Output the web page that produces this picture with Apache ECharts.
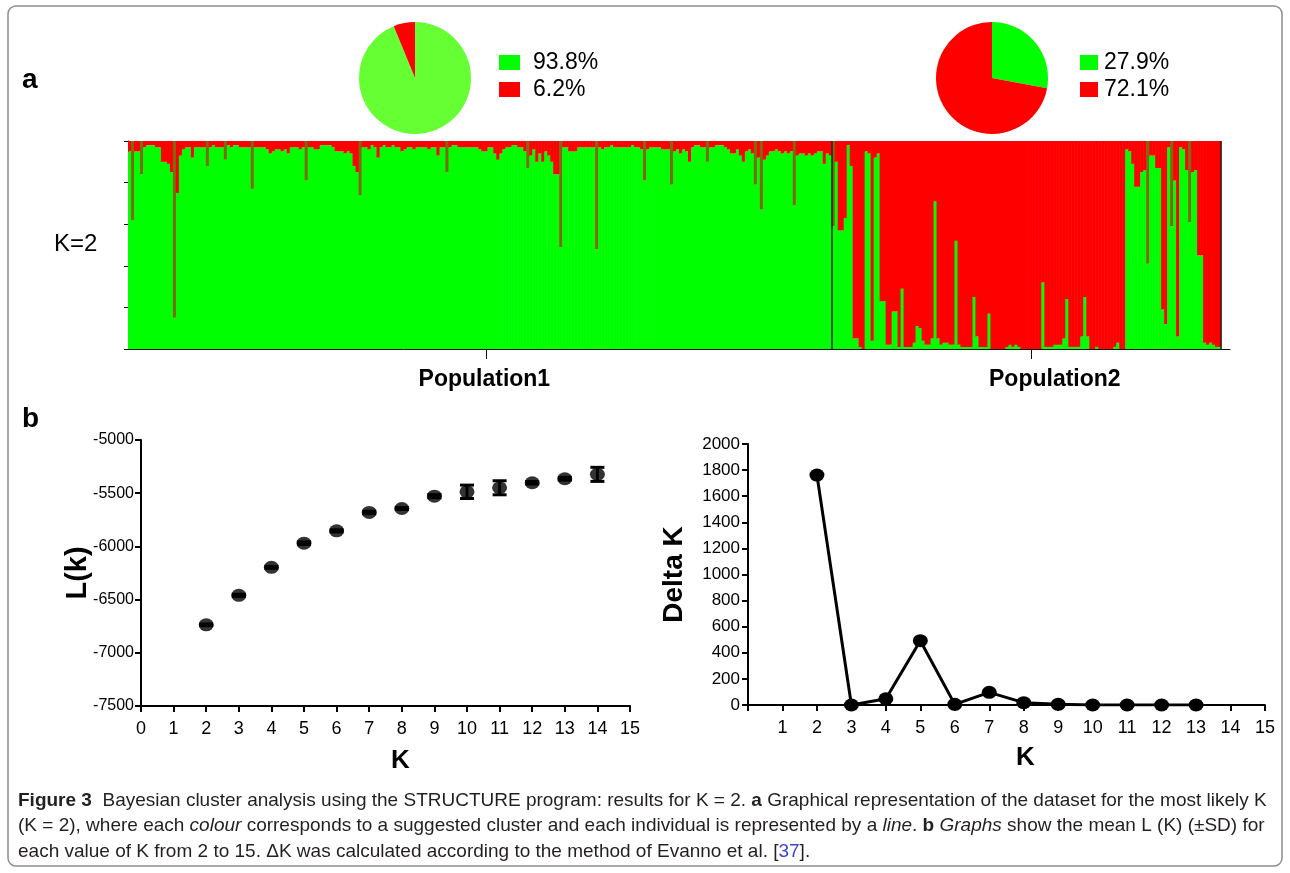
<!DOCTYPE html>
<html>
<head>
<meta charset="utf-8">
<title>Figure 3 - STRUCTURE K=2</title>
<script src="https://cdn.jsdelivr.net/npm/echarts@6/dist/echarts.min.js"></script>
<style>
html, body { margin: 0; padding: 0; background: #fff; }
#fig { width: 1290px; height: 873px; }
</style>
</head>
<body>
<div id="fig"></div>
<script>
// pie shares per population (%), cluster 1 = green, cluster 2 = red
var clusterNames = ['Cluster 1', 'Cluster 2'];
var popNames = ['Population1', 'Population2'];
var pop1Share = [93.8, 6.2];
var pop2Share = [27.9, 72.1];

// STRUCTURE membership in cluster 2 (red part of each individual's bar)
var pop1Red = [
  0.05, 0.38, 0.05, 0.05, 0.16, 0.03, 0.02, 0.02, 0.02, 0.03,
  0.03, 0.10, 0.10, 0.11, 0.15, 0.85, 0.25, 0.07, 0.04, 0.03,
  0.03, 0.08, 0.03, 0.03, 0.03, 0.03, 0.12, 0.03, 0.02, 0.03,
  0.03, 0.03, 0.09, 0.02, 0.03, 0.02, 0.02, 0.03, 0.03, 0.03,
  0.03, 0.23, 0.03, 0.03, 0.03, 0.03, 0.04, 0.06, 0.05, 0.04,
  0.04, 0.05, 0.04, 0.06, 0.03, 0.03, 0.03, 0.04, 0.03, 0.19,
  0.03, 0.03, 0.04, 0.04, 0.02, 0.02, 0.02, 0.02, 0.03, 0.05,
  0.05, 0.05, 0.06, 0.05, 0.06, 0.12, 0.15, 0.26, 0.03, 0.03,
  0.04, 0.02, 0.03, 0.08, 0.03, 0.02, 0.03, 0.03, 0.02, 0.03,
  0.03, 0.05, 0.04, 0.03, 0.03, 0.04, 0.03, 0.03, 0.03, 0.03,
  0.04, 0.03, 0.03, 0.07, 0.03, 0.03, 0.15, 0.03, 0.02, 0.02,
  0.03, 0.03, 0.03, 0.03, 0.03, 0.03, 0.03, 0.04, 0.05, 0.05,
  0.03, 0.03, 0.06, 0.09, 0.06, 0.04, 0.03, 0.03, 0.02, 0.02,
  0.03, 0.03, 0.05, 0.13, 0.07, 0.04, 0.10, 0.06, 0.10, 0.05,
  0.07, 0.10, 0.16, 0.16, 0.51, 0.03, 0.03, 0.05, 0.05, 0.05,
  0.03, 0.03, 0.03, 0.03, 0.03, 0.03, 0.52, 0.03, 0.04, 0.03,
  0.03, 0.02, 0.03, 0.03, 0.03, 0.03, 0.03, 0.03, 0.02, 0.03,
  0.03, 0.04, 0.19, 0.04, 0.03, 0.03, 0.03, 0.03, 0.04, 0.04,
  0.04, 0.21, 0.05, 0.04, 0.06, 0.04, 0.05, 0.10, 0.03, 0.02,
  0.02, 0.03, 0.03, 0.10, 0.03, 0.03, 0.02, 0.02, 0.02, 0.03,
  0.04, 0.06, 0.06, 0.04, 0.07, 0.10, 0.05, 0.04, 0.06, 0.21,
  0.08, 0.33, 0.09, 0.07, 0.05, 0.05, 0.04, 0.05, 0.06, 0.05,
  0.06, 0.05, 0.31, 0.07, 0.06, 0.06, 0.07, 0.06, 0.07, 0.06,
  0.05, 0.05, 0.11, 0.06, 0.07
];
var pop2Red = [
  0.41, 0.10, 0.43, 0.43, 0.37, 0.02, 0.12, 0.95, 0.95, 0.99,
  1.00, 0.05, 0.06, 0.96, 0.08, 0.06, 0.77, 0.77, 0.98, 0.98,
  0.82, 0.82, 0.99, 0.71, 0.99, 0.99, 0.99, 0.97, 0.89, 0.90,
  0.96, 0.98, 0.98, 0.95, 0.29, 0.95, 0.98, 0.97, 0.97, 0.98,
  0.98, 0.48, 0.98, 0.99, 0.99, 0.99, 0.99, 0.75, 0.94, 0.99,
  0.99, 0.99, 0.83, 1.00, 1.00, 1.00, 1.00, 1.00, 0.99, 0.98,
  0.99, 0.98, 0.99, 1.00, 1.00, 1.00, 1.00, 1.00, 1.00, 1.00,
  0.68, 0.99, 0.99, 0.99, 0.98, 0.98, 0.98, 0.95, 0.76, 0.99,
  0.99, 0.99, 0.99, 0.94, 0.75, 0.94, 1.00, 1.00, 0.99, 1.00,
  1.00, 1.00, 1.00, 1.00, 0.99, 0.97, 1.00, 1.00, 0.04, 0.05,
  0.11, 0.22, 0.22, 0.15, 0.14, 0.59, 0.07, 0.07, 0.13, 0.13,
  0.81, 0.88, 0.03, 0.41, 0.19, 0.94, 0.03, 0.04, 0.14, 0.39,
  0.15, 0.14, 0.55, 0.55, 0.97, 0.98, 0.97, 0.98, 0.99, 0.99
];

// mean L(K) with SD, and Evanno delta K
var kLnK = [2, 3, 4, 5, 6, 7, 8, 9, 10, 11, 12, 13, 14];
var lnK = [-6737, -6460, -6197, -5970, -5854, -5681, -5644, -5528, -5487, -5449, -5402, -5364, -5323];
var lnKsd = [8, 10, 9, 12, 10, 11, 9, 14, 63, 66, 12, 13, 66];
var kDelta = [2, 3, 4, 5, 6, 7, 8, 9, 10, 11, 12, 13];
var deltaK = [1762, 0, 48, 493, 5, 97, 18, 5, 0, 0, 0, 0];

var redAll = pop1Red.concat(pop2Red);
var n1 = pop1Red.length;
var nAll = redAll.length;

// thin admixed spikes inside a green block look olive in the printed figure
function redColor(i) {
  var q = redAll[i];
  var a = i > 0 ? redAll[i - 1] : 0;
  var b = i < nAll - 1 ? redAll[i + 1] : 0;
  if (q < 0.9 && a < 0.3 && b < 0.3 && q - a > 0.05 && q - b > 0.05) return '#7d6a0a';
  return '#ff0000';
}

var shareLabel = {};
clusterNames.forEach(function (c, i) {
  shareLabel[popNames[0] + ' ' + c] = pop1Share[i];
  shareLabel[popNames[1] + ' ' + c] = pop2Share[i];
});

var sans = '"Liberation Sans", Arial, sans-serif';
var plain = function (v) { return String(v); };
var capSize = 19;

var chart = echarts.init(document.getElementById('fig'), null, { renderer: 'canvas' });

var option = {
  backgroundColor: '#fff',
  animation: false,
  textStyle: { fontFamily: sans, color: '#000' },
  graphic: [
    {
      type: 'rect', silent: true, z: -10,
      shape: { x: 8, y: 6, width: 1274, height: 860, r: 8 },
      style: { fill: 'none', stroke: '#8c8c8c', lineWidth: 1.5 }
    },
    { type: 'text', left: 22, top: 66, style: { text: 'a', fontFamily: sans, fontWeight: 'bold', fontSize: 28, fill: '#000' } },
    { type: 'text', left: 22, top: 405, style: { text: 'b', fontFamily: sans, fontWeight: 'bold', fontSize: 28, fill: '#000' } },
    { type: 'text', left: 54, top: 232, style: { text: 'K=2', fontFamily: sans, fontSize: 24, fill: '#000' } },
    {
      type: 'text', left: 18, top: 791,
      style: {
        text: '{b|Figure 3}  Bayesian cluster analysis using the STRUCTURE program: results for K = 2. {b|a} Graphical representation of the dataset for the most likely K',
        fontFamily: sans, fontSize: capSize, fill: '#231f20',
        rich: { b: { fontWeight: 'bold', fontFamily: sans, fontSize: capSize } }
      }
    },
    {
      type: 'text', left: 18, top: 816,
      style: {
        text: '(K = 2), where each {i|colour} corresponds to a suggested cluster and each individual is represented by a {i|line}. {b|b} {i|Graphs} show the mean L (K) (\u00b1SD) for',
        fontFamily: sans, fontSize: capSize, fill: '#231f20',
        rich: {
          b: { fontWeight: 'bold', fontFamily: sans, fontSize: capSize },
          i: { fontStyle: 'italic', fontFamily: sans, fontSize: capSize }
        }
      }
    },
    {
      type: 'text', left: 18, top: 842,
      style: {
        text: 'each value of K from 2 to 15. \u0394K was calculated according to the method of Evanno et al. [{u|37}].',
        fontFamily: sans, fontSize: capSize, fill: '#231f20',
        rich: { u: { fill: '#3b45d1', fontFamily: sans, fontSize: capSize } }
      }
    }
  ],
  legend: [
    {
      left: 494, top: 46, orient: 'vertical', icon: 'rect',
      itemWidth: 21, itemHeight: 15, itemGap: 4, selectedMode: false,
      data: clusterNames.map(function (c, i) {
        return { name: popNames[0] + ' ' + c, itemStyle: { color: i === 0 ? '#00ff00' : '#ff0000' } };
      }),
      formatter: function (name) { return '{p|' + shareLabel[name].toFixed(1) + '%}'; },
      textStyle: { rich: { p: { fontSize: 23, lineHeight: 22, padding: [0, 0, 0, 8], color: '#000', fontFamily: sans } } }
    },
    {
      left: 1075, top: 46, orient: 'vertical', icon: 'rect',
      itemWidth: 18, itemHeight: 15, itemGap: 4, selectedMode: false,
      data: clusterNames.map(function (c, i) {
        return { name: popNames[1] + ' ' + c, itemStyle: { color: i === 0 ? '#00ff00' : '#ff0000' } };
      }),
      formatter: function (name) { return '{p|' + shareLabel[name].toFixed(1) + '%}'; },
      textStyle: { rich: { p: { fontSize: 23, lineHeight: 22, padding: [0, 0, 0, 1], color: '#000', fontFamily: sans } } }
    }
  ],
  grid: [
    { left: 128, top: 141, width: 1102, height: 208 },
    { left: 141, top: 440, width: 489, height: 266 },
    { left: 748, top: 444, width: 517, height: 261 }
  ],
  xAxis: [
    {
      gridIndex: 0, type: 'value', min: 0, max: 368,
      axisLine: { lineStyle: { color: '#111', width: 1 } },
      axisTick: { show: true, customValues: [119.5, 301.5], length: 10, lineStyle: { color: '#111', width: 1 } },
      axisLabel: {
        customValues: [119, 309.5], margin: 19,
        fontSize: 23, fontWeight: 'bold', color: '#000', fontFamily: sans,
        formatter: function (v) { return v < n1 ? popNames[0] : popNames[1]; }
      },
      splitLine: { show: false }
    },
    {
      gridIndex: 1, type: 'value', min: 0, max: 15, interval: 1,
      name: 'K', nameLocation: 'middle', nameGap: 42, nameMoveOverlap: false,
      nameTextStyle: { fontSize: 26, fontWeight: 'bold', color: '#000', padding: [0, 0, 0, 30] },
      axisLine: { lineStyle: { color: '#000', width: 2 } },
      axisTick: { length: 6, lineStyle: { color: '#000', width: 2 } },
      axisLabel: { fontSize: 18, color: '#000', fontFamily: sans, margin: 14, formatter: plain },
      splitLine: { show: false }
    },
    {
      gridIndex: 2, type: 'value', min: 0, max: 15, interval: 1,
      name: 'K', nameLocation: 'middle', nameGap: 40, nameMoveOverlap: false,
      nameTextStyle: { fontSize: 26, fontWeight: 'bold', color: '#000', padding: [0, 0, 0, 38] },
      axisLine: { lineStyle: { color: '#000', width: 2 } },
      axisTick: { length: 6, lineStyle: { color: '#000', width: 2 } },
      axisLabel: {
        fontSize: 18, color: '#000', fontFamily: sans, margin: 14,
        formatter: function (v) { return v === 0 ? '' : String(v); }
      },
      splitLine: { show: false }
    }
  ],
  yAxis: [
    {
      gridIndex: 0, type: 'value', min: 0, max: 1, interval: 0.2,
      axisLine: { show: true, lineStyle: { color: '#111', width: 1 } },
      axisTick: { show: true, length: 4, lineStyle: { color: '#111', width: 1 } },
      axisLabel: { show: false },
      splitLine: { show: false }
    },
    {
      gridIndex: 1, type: 'value', min: -7500, max: -5000, interval: 500,
      name: 'L(k)', nameLocation: 'middle', nameGap: 49, nameMoveOverlap: false,
      nameTextStyle: { fontSize: 29, fontWeight: 'bold', color: '#000' },
      axisLine: { show: true, lineStyle: { color: '#000', width: 2 } },
      axisTick: { show: true, length: 6, lineStyle: { color: '#000', width: 2 } },
      axisLabel: { fontSize: 16, color: '#000', fontFamily: sans, margin: 7, formatter: plain },
      splitLine: { show: false }
    },
    {
      gridIndex: 2, type: 'value', min: 0, max: 2000, interval: 200,
      name: 'Delta K', nameLocation: 'middle', nameGap: 60, nameMoveOverlap: false,
      nameTextStyle: { fontSize: 28, fontWeight: 'bold', color: '#000' },
      axisLine: { show: true, lineStyle: { color: '#000', width: 2 } },
      axisTick: { show: true, length: 6, lineStyle: { color: '#000', width: 2 } },
      axisLabel: { fontSize: 17, color: '#000', fontFamily: sans, margin: 8, formatter: plain },
      splitLine: { show: false }
    }
  ],
  series: [
    {
      type: 'pie', center: [415, 78], radius: 56, silent: true,
      startAngle: 90, clockwise: true,
      label: { show: false }, labelLine: { show: false },
      data: clusterNames.map(function (c, i) {
        return { name: popNames[0] + ' ' + c, value: pop1Share[i], itemStyle: { color: i === 0 ? '#66ff33' : '#ff0000' } };
      })
    },
    {
      type: 'pie', center: [992, 78], radius: 56, silent: true,
      startAngle: 90, clockwise: true,
      label: { show: false }, labelLine: { show: false },
      data: clusterNames.map(function (c, i) {
        return { name: popNames[1] + ' ' + c, value: pop2Share[i], itemStyle: { color: i === 0 ? '#00ff00' : '#ff0000' } };
      })
    },
    {
      // one column per individual: green (cluster 1) below, red (cluster 2) on top
      type: 'custom', xAxisIndex: 0, yAxisIndex: 0, silent: true,
      data: redAll.map(function (q, i) { return [i, q]; }),
      encode: { x: 0, y: 1 },
      renderItem: function (params, api) {
        var i = api.value(0);
        var q = api.value(1);
        var bl = api.coord([i, 0]);
        var tr = api.coord([i + 1, 1]);
        var split = api.coord([i, 1 - q]);
        var w = tr[0] - bl[0] + 0.6;
        return {
          type: 'group',
          children: [
            { type: 'rect', shape: { x: bl[0], y: split[1], width: w, height: bl[1] - split[1] }, style: { fill: '#00ff00' } },
            { type: 'rect', shape: { x: bl[0], y: tr[1], width: w, height: split[1] - tr[1] }, style: { fill: redColor(i) } }
          ]
        };
      },
      markLine: {
        silent: true, symbol: 'none', label: { show: false },
        lineStyle: { color: '#222', width: 1.5, type: 'solid' },
        data: [{ xAxis: n1 }, { xAxis: nAll }]
      }
    },
    {
      type: 'custom', xAxisIndex: 1, yAxisIndex: 1, silent: true, z: 1,
      data: kLnK.map(function (k, i) { return [k, lnK[i] - lnKsd[i], lnK[i] + lnKsd[i]]; }),
      encode: { x: 0, y: [1, 2] },
      renderItem: function (params, api) {
        var lo = api.coord([api.value(0), api.value(1)]);
        var hi = api.coord([api.value(0), api.value(2)]);
        var hw = 7;
        var st = { stroke: '#000', lineWidth: 3 };
        return {
          type: 'group',
          children: [
            { type: 'line', shape: { x1: lo[0], y1: lo[1], x2: hi[0], y2: hi[1] }, style: st },
            { type: 'line', shape: { x1: lo[0] - hw, y1: lo[1], x2: lo[0] + hw, y2: lo[1] }, style: st },
            { type: 'line', shape: { x1: hi[0] - hw, y1: hi[1], x2: hi[0] + hw, y2: hi[1] }, style: st }
          ]
        };
      }
    },
    {
      type: 'scatter', xAxisIndex: 1, yAxisIndex: 1, silent: true, z: 3,
      symbol: 'circle', symbolSize: [15, 13],
      itemStyle: { color: '#000' },
      data: kLnK.map(function (k, i) { return [k, lnK[i]]; })
    },
    {
      type: 'line', xAxisIndex: 2, yAxisIndex: 2, silent: true,
      symbol: 'circle', symbolSize: [15, 13],
      lineStyle: { color: '#000', width: 3 },
      itemStyle: { color: '#000' },
      data: kDelta.map(function (k, i) { return [k, deltaK[i]]; })
    }
  ]
};

chart.setOption(option);
</script>
</body>
</html>
